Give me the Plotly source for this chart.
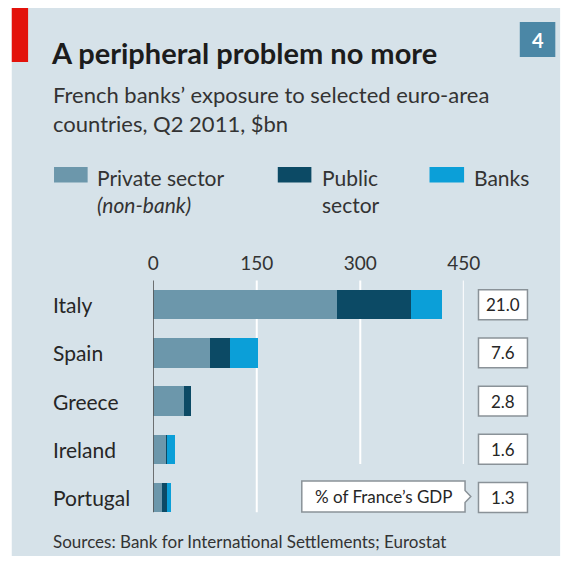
import plotly.graph_objects as go

# ---------------- data ----------------
countries = ["Italy", "Spain", "Greece", "Ireland", "Portugal"]
private_sector = [266, 82, 44, 19, 13]
public_sector = [108, 29, 11, 1, 7]
banks = [45, 41, 0, 12, 6]
gdp_share = ["21.0", "7.6", "2.8", "1.6", "1.3"]
series_names = ["Private sector", "Public sector", "Banks"]
x_ticks = [0, 150, 300, 450]

title = "A peripheral problem no more"
subtitle = "French banks\u2019 exposure to selected euro-area<br>countries, Q2 2011, $bn"
source = "Sources: Bank for International Settlements; Eurostat"

# ---------------- style ----------------
W, H = 580, 562
FONT = "Lato"
BG = "#d6e2e9"
C_PRIV = "#6c97ab"
C_PUB = "#0c4a65"
C_BANK = "#0b9fd8"
TXT = "#262626"
BAR_GAP = 0.39


def px(x):
    return x / W


def py(y):
    return 1 - y / H


X0_PX, X450_PX = 153.3, 476.7
TOP_PX, BOT_PX = 280.6, 521.6

fig = go.Figure()
for name, vals, col in zip(series_names, [private_sector, public_sector, banks],
                           [C_PRIV, C_PUB, C_BANK]):
    fig.add_trace(go.Bar(y=countries, x=vals, name=name, orientation="h",
                         marker=dict(color=col, line=dict(width=0)),
                         showlegend=False, hoverinfo="skip"))

shapes = []
annotations = []


def note(text, x, y, xa="left", ya="middle", size=21, color=TXT, **kw):
    annotations.append(dict(text=text, xref="paper", yref="paper", x=px(x), y=py(y),
                            xanchor=xa, yanchor=ya, showarrow=False,
                            font=dict(family=FONT, size=size, color=color), **kw))


# background panel and red tag
shapes.append(dict(type="rect", xref="paper", yref="paper", x0=px(6), x1=px(577),
                   y0=py(556), y1=py(8), fillcolor=BG, line=dict(width=0), layer="below"))
shapes.append(dict(type="rect", xref="paper", yref="paper", x0=px(6), x1=px(23),
                   y0=py(62), y1=py(8), fillcolor="#e3120b", line=dict(width=0), layer="below"))
shapes.append(dict(type="rect", xref="paper", yref="paper", x0=px(535), x1=px(572),
                   y0=py(57), y1=py(22), fillcolor="#4b87a6", line=dict(width=0), layer="below"))
note("<b>4</b>", 553.5, 40, xa="center", size=20, color="white")

# titles
note("<b>" + title + "</b>", 45, 53, size=29, color="#1c1c1c")
note(subtitle, 47, 109, size=22, color="#333", align="left")

# legend
leg = [
    (50, 85, C_PRIV, 93, "Private sector<br><i>(non-bank)</i>"),
    (283, 318, C_PUB, 327, "Public<br>sector"),
    (441, 477, C_BANK, 485, "Banks"),
]
for a, b, col, tx, label in leg:
    shapes.append(dict(type="rect", xref="paper", yref="paper", x0=px(a), x1=px(b),
                       y0=py(182.5), y1=py(167), fillcolor=col, line=dict(width=0)))
    note(label, tx, 163, ya="top", size=21, color="#333", align="left")

# gridlines (white) drawn between plot background and bars, axis line
half = (1 - BAR_GAP) / 2
for t in x_ticks[1:]:
    last = countries[-1] if t == 150 else countries[-2]
    shapes.append(dict(type="line", xref="x", yref="y", x0=t, x1=t,
                       y0=-0.6, y1=countries.index(last) + half,
                       line=dict(color="white", width=2), layer="between"))
shapes.append(dict(type="line", xref="x", yref="y", x0=0, x1=0,
                   y0=-0.6, y1=len(countries) - 1 + half,
                   line=dict(color="#4a4a4a", width=1.5), layer="above"))

# category labels and GDP boxes
for i, (c, g) in enumerate(zip(countries, gdp_share)):
    annotations.append(dict(text=c, xref="paper", yref="y", x=px(47), y=c, xanchor="left",
                            yanchor="middle", showarrow=False,
                            font=dict(family=FONT, size=21, color=TXT)))
    shapes.append(dict(type="rect", xref="paper", yref="y", x0=px(492), x1=px(543),
                       y0=i - 0.31, y1=i + 0.31, fillcolor="white",
                       line=dict(color="#8a9298", width=1.5)))
    annotations.append(dict(text=g, xref="paper", yref="y", x=px(517.5), y=c, xanchor="center",
                            yanchor="middle", showarrow=False,
                            font=dict(family=FONT, size=17, color=TXT)))

# callout "% of France's GDP"
l, r, t_, b_ = 308, 478, 481, 512
mid = (t_ + b_) / 2
path = (f"M {px(l)} {py(t_)} L {px(r)} {py(t_)} L {px(r)} {py(mid-6)} L {px(r+6)} {py(mid)} "
        f"L {px(r)} {py(mid+6)} L {px(r)} {py(b_)} L {px(l)} {py(b_)} Z")
shapes.append(dict(type="path", xref="paper", yref="paper", path=path,
                   fillcolor="white", line=dict(color="#8a9298", width=1.5)))
note("% of France\u2019s GDP", (l + r) / 2, mid, xa="center", size=17)

# source
note(source, 47, 541, size=17, color="#333")

fig.update_layout(
    height=H, autosize=True, margin=dict(l=0, r=0, t=0, b=0, pad=0),
    paper_bgcolor="white", plot_bgcolor="rgba(0,0,0,0)",
    barmode="stack", bargap=BAR_GAP,
    shapes=shapes, annotations=annotations,
    xaxis=dict(domain=[px(X0_PX), px(X450_PX)], range=[0, 450], side="top", fixedrange=True,
               tickvals=x_ticks, ticktext=[str(v) for v in x_ticks],
               showgrid=False, zeroline=False, showline=False, ticks="",
               tickfont=dict(family=FONT, size=19, color="#333"), ticklabelstandoff=6),
    yaxis=dict(domain=[py(BOT_PX), py(TOP_PX)], range=[len(countries) - 0.5, -0.5], fixedrange=True,
               showticklabels=False, showgrid=False, zeroline=False, showline=False, ticks=""),
)

fig.write_html(
    "out.html",
    default_width="100%",
    config={"displayModeBar": False, "staticPlot": True},
    post_script="document.body.style.margin='0';"
                "Plotly.Plots.resize(document.getElementById('{plot_id}'));",
)
